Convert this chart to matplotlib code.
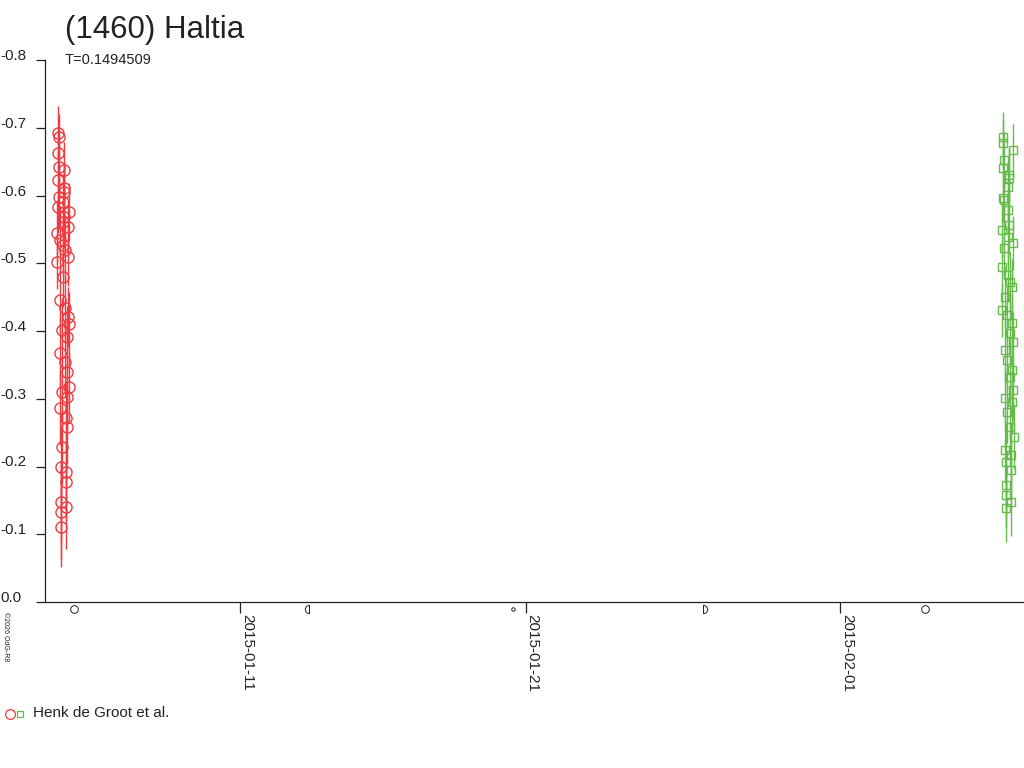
from datetime import datetime
import numpy as np
import matplotlib
matplotlib.use("Agg")
import matplotlib.pyplot as plt
import matplotlib.dates as mdates
from matplotlib.lines import Line2D
from matplotlib.path import Path
from matplotlib.transforms import blended_transform_factory

plt.rcParams['font.family'] = ['Liberation Sans', 'DejaVu Sans']

# observation times, day of January 2015 (UT, fractional)
red_day = [4.600, 4.609, 4.619, 4.628, 4.638, 4.647, 4.657, 4.666, 4.676, 4.685,
           4.695, 4.704, 4.714, 4.723, 4.733, 4.742, 4.752, 4.761, 4.771, 4.780,
           4.790, 4.799, 4.809, 4.818, 4.828, 4.837, 4.847, 4.856, 4.866, 4.875,
           4.885, 4.894, 4.904, 4.913, 4.923, 4.932, 4.942, 4.951, 4.961, 4.970,
           4.980, 4.989, 4.999, 5.008, 5.018]
red_mag = [-0.502, -0.545, -0.583, -0.623, -0.663, -0.692, -0.686, -0.642, -0.598, -0.534,
           -0.446, -0.368, -0.286, -0.199, -0.133, -0.111, -0.148, -0.229, -0.310, -0.401,
           -0.480, -0.527, -0.561, -0.590, -0.611, -0.638, -0.605, -0.568, -0.520, -0.434,
           -0.354, -0.272, -0.192, -0.140, -0.177, -0.258, -0.303, -0.339, -0.391, -0.421,
           -0.509, -0.554, -0.576, -0.410, -0.317]
red_err = [0.040, 0.045, 0.038, 0.042, 0.036, 0.040, 0.035, 0.044, 0.046, 0.050,
           0.048, 0.052, 0.055, 0.058, 0.070, 0.059, 0.060, 0.055, 0.050, 0.047,
           0.045, 0.043, 0.040, 0.042, 0.038, 0.041, 0.044, 0.046, 0.048, 0.050,
           0.052, 0.054, 0.060, 0.062, 0.058, 0.055, 0.050, 0.048, 0.046, 0.044,
           0.042, 0.040, 0.043, 0.047, 0.051]

grn_day = [37.660, 37.670, 37.680, 37.689, 37.699, 37.709, 37.719, 37.729, 37.738, 37.748,
           37.758, 37.768, 37.778, 37.787, 37.797, 37.807, 37.817, 37.827, 37.836, 37.846,
           37.856, 37.866, 37.876, 37.885, 37.895, 37.905, 37.915, 37.925, 37.934, 37.944,
           37.954, 37.964, 37.974, 37.983, 37.993, 38.003, 38.013, 38.023, 38.032, 38.042,
           38.052, 38.062, 38.072, 38.081]
grn_mag = [-0.431, -0.494, -0.549, -0.597, -0.641, -0.677, -0.686, -0.652, -0.594, -0.523,
           -0.450, -0.372, -0.301, -0.224, -0.173, -0.139, -0.158, -0.207, -0.280, -0.357,
           -0.424, -0.483, -0.539, -0.579, -0.613, -0.630, -0.626, -0.557, -0.472, -0.397,
           -0.332, -0.258, -0.195, -0.148, -0.217, -0.295, -0.343, -0.412, -0.465, -0.530,
           -0.667, -0.384, -0.313, -0.244]
grn_err = [0.040, 0.038, 0.042, 0.036, 0.040, 0.035, 0.037, 0.041, 0.044, 0.043,
           0.045, 0.047, 0.046, 0.048, 0.050, 0.051, 0.049, 0.047, 0.045, 0.044,
           0.042, 0.040, 0.041, 0.039, 0.038, 0.040, 0.042, 0.043, 0.045, 0.046,
           0.047, 0.048, 0.049, 0.050, 0.047, 0.045, 0.044, 0.043, 0.041, 0.040,
           0.038, 0.044, 0.046, 0.048]

# moon phases, day of January 2015
moon_day = [5.20, 13.41, 20.55, 27.20, 34.96]
moon_phase = ['full', 'last', 'new', 'first', 'full']

x_ticks = ['2015-01-11', '2015-01-21', '2015-02-01']
y_ticks = [-0.8, -0.7, -0.6, -0.5, -0.4, -0.3, -0.2, -0.1, 0.0]
y_labels = ['-0.8', '-0.7', '-0.6', '-0.5', '-0.4', '-0.3', '-0.2', '-0.1', '0.0']

RED = '#ee3a40'
GRN = '#66bb4c'
INK = '#222222'

base = mdates.date2num(datetime(2015, 1, 1))


def jan(d):
    return base + np.asarray(d) - 1.0


fig = plt.figure(figsize=(10.24, 7.68), dpi=100)
ax = fig.add_axes([45/1024, 1-602/768, 979/1024, 542/768])

ax.errorbar(jan(red_day), red_mag, yerr=red_err, fmt='o', ms=8, mfc='none',
            mec=RED, mew=1.0, ecolor=RED, elinewidth=1.0, capsize=0)
ax.errorbar(jan(grn_day), grn_mag, yerr=grn_err, fmt='s', ms=6.3, mfc='none',
            mec=GRN, mew=1.0, ecolor=GRN, elinewidth=1.0, capsize=0)

ax.set_xlim(jan(4.175), jan(38.44))
ax.set_ylim(0, -0.8)

for s in ('top', 'right'):
    ax.spines[s].set_visible(False)
for s in ('left', 'bottom'):
    ax.spines[s].set_color(INK)
    ax.spines[s].set_linewidth(0.9)

ax.set_yticks(y_ticks)
ax.set_yticklabels(y_labels)
ax.tick_params(axis='y', direction='out', length=6.5, width=0.9, color=INK,
               labelsize=11, labelcolor=INK, pad=25.9)
for lab in ax.get_yticklabels():
    lab.set_horizontalalignment('left')
    lab.set_verticalalignment('baseline')

ax.set_xticks([mdates.date2num(datetime.strptime(t, '%Y-%m-%d')) for t in x_ticks])
ax.set_xticklabels(x_ticks)
ax.tick_params(axis='x', direction='out', length=8, width=0.9, color=INK,
               labelsize=11, labelcolor=INK, pad=0.5)
for lab in ax.get_xticklabels():
    lab.set_rotation(270)
    lab.set_horizontalalignment('left')
    lab.set_verticalalignment('top')

# moon phase symbols just under the axis
arc = Path.arc(90, 270)
left_half = Path(np.vstack([arc.vertices, [[0, 1]]]), list(arc.codes) + [Path.LINETO])
arc = Path.arc(-90, 90)
right_half = Path(np.vstack([arc.vertices, [[0, -1]]]), list(arc.codes) + [Path.LINETO])
shapes = {'full': ('o', 5.5), 'last': (left_half, 6), 'new': ('o', 2.5), 'first': (right_half, 6)}
trans = blended_transform_factory(ax.transData, ax.transAxes)
for d, ph in zip(moon_day, moon_phase):
    mk, sz = shapes[ph]
    ax.plot([jan(d)], [-0.012], marker=mk, ms=sz, mfc='none', mec=INK, mew=0.7,
            transform=trans, clip_on=False)

# titles
fig.text(65/1024, 1-38/768, '(1460) Haltia', fontsize=22.5, color=INK, va='baseline')
fig.text(65/1024, 1-63.5/768, 'T=0.1494509', fontsize=10.5, color=INK, va='baseline')

# legend
fig.add_artist(Line2D([10/1024], [1-714/768], marker='o', ms=7, mfc='none', mec=RED,
                      mew=0.9, transform=fig.transFigure))
fig.add_artist(Line2D([20/1024], [1-714/768], marker='s', ms=5, mfc='none', mec=GRN,
                      mew=0.9, transform=fig.transFigure))
fig.text(33/1024, 1-713/768, 'Henk de Groot et al.', fontsize=11, color=INK, va='center')

fig.text(2/1024, 1-612/768, '\u00a92026 OdG-R8', fontsize=5, color=INK,
         rotation=270, ha='left', va='top')

fig.savefig('out.png', dpi=100, facecolor='white')
